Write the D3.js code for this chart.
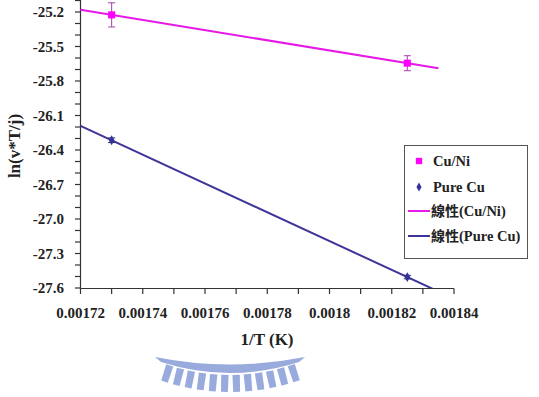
<!DOCTYPE html>
<html>
<head>
<meta charset="utf-8">
<script src="https://cdn.jsdelivr.net/npm/d3@7"></script>
<style>
    body { margin: 0; background: #fff; }
    svg { display: block; }
</style>
</head>
<body>
<svg id="chart" width="539" height="397"></svg>
<script>
// data
const invT = [0.00173, 0.001825];
const cuNi = [-25.225, -25.645];
const cuNiErr = [0.105, 0.065];
const pureCu = [-26.315, -27.505];
const pureCuErr = [0.02, 0.015];

const xTickValues = [0.00172, 0.00174, 0.00176, 0.00178, 0.0018, 0.00182, 0.00184];
const xTickLabels = ['0.00172', '0.00174', '0.00176', '0.00178', '0.0018', '0.00182', '0.00184'];
const yTickValues = [-27.6, -27.3, -27.0, -26.7, -26.4, -26.1, -25.8, -25.5, -25.2];
const yTickLabels = ['-27.6', '-27.3', '-27.0', '-26.7', '-26.4', '-26.1', '-25.8', '-25.5', '-25.2'];
const trendRange = [0.00172, 0.001835];

const serif = '"Liberation Serif", "DejaVu Serif", "Times New Roman", serif';
const cjk = '"Noto Sans CJK TC", "Noto Sans CJK SC", sans-serif';

const series = [
    { name: 'Cu/Ni', y: cuNi, err: cuNiErr, color: '#ff00ff', line: '#e619e6', errColor: '#b04cb0', shape: d3.symbolSquare, size: 50 },
    { name: 'Pure Cu', y: pureCu, err: pureCuErr, color: '#333399', line: '#3d3599', errColor: '#333366', shape: d3.symbolDiamond, size: 28 }
];

const svg = d3.select('#chart');

const x = d3.scaleLinear().domain([0.00172, 0.00184]).range([80.5, 454]);
const y = d3.scaleLinear().domain([-27.6, -25.1]).range([288, 0.5]);

// minor ticks
const xMinor = d3.range(0, 13).map(i => 0.00172 + i * 0.00001);
const yMinor = d3.range(0, 26).map(i => -27.6 + i * 0.1);

const txt = (sel, size) => sel
    .attr('font-family', serif)
    .attr('font-weight', 'bold')
    .attr('font-size', size)
    .attr('fill', '#222');

const axes = svg.append('g');
axes.append('line')
    .attr('x1', x.range()[0]).attr('x2', x.range()[1])
    .attr('y1', 288.5).attr('y2', 288.5)
    .attr('stroke', '#333').attr('stroke-width', 1.2);
axes.append('line')
    .attr('x1', 80.5).attr('x2', 80.5)
    .attr('y1', 0).attr('y2', 288.5)
    .attr('stroke', '#333').attr('stroke-width', 1.2);

axes.selectAll('.xt').data(xMinor).enter().append('line')
    .attr('x1', d => x(d)).attr('x2', d => x(d))
    .attr('y1', 288.5).attr('y2', 294)
    .attr('stroke', '#333').attr('stroke-width', 1.2);
axes.selectAll('.yt').data(yMinor).enter().append('line')
    .attr('x1', 75).attr('x2', 80.5)
    .attr('y1', d => y(d)).attr('y2', d => y(d))
    .attr('stroke', '#333').attr('stroke-width', 1.2);

axes.selectAll('.xl').data(xTickValues).enter().append('text')
    .call(txt, 15)
    .attr('x', d => x(d)).attr('y', 318)
    .attr('text-anchor', 'middle')
    .text((d, i) => xTickLabels[i]);
axes.selectAll('.yl').data(yTickValues).enter().append('text')
    .call(txt, 15)
    .attr('x', 64).attr('y', d => y(d) + 5)
    .attr('text-anchor', 'end')
    .text((d, i) => yTickLabels[i]);

svg.append('text')
    .call(txt, 17)
    .attr('x', 267).attr('y', 345)
    .attr('text-anchor', 'middle')
    .text('1/T (K)');
svg.append('text')
    .call(txt, 17)
    .attr('transform', 'translate(20,146) rotate(-90)')
    .attr('text-anchor', 'middle')
    .text('ln(v*T/j)');

// plot clip
svg.append('clipPath').attr('id', 'plot')
    .append('rect').attr('x', 80).attr('y', 0).attr('width', 380).attr('height', 288);

const plot = svg.append('g').attr('clip-path', 'url(#plot)');

series.forEach(s => {
    // least squares trend line
    const mx = d3.mean(invT), my = d3.mean(s.y);
    const slope = d3.sum(invT, (v, i) => (v - mx) * (s.y[i] - my)) / d3.sum(invT, v => (v - mx) * (v - mx));
    const fit = v => my + slope * (v - mx);

    plot.append('line')
        .attr('x1', x(trendRange[0])).attr('y1', y(fit(trendRange[0])))
        .attr('x2', x(trendRange[1])).attr('y2', y(fit(trendRange[1])))
        .attr('stroke', s.line).attr('stroke-width', 2);

    const pts = invT.map((v, i) => ({ x: v, y: s.y[i], e: s.err[i] }));
    const eb = plot.selectAll(null).data(pts).enter().append('g').attr('stroke', s.errColor).attr('stroke-width', 1.1);
    eb.append('line')
        .attr('x1', d => x(d.x)).attr('x2', d => x(d.x))
        .attr('y1', d => y(d.y - d.e)).attr('y2', d => y(d.y + d.e));
    eb.append('line')
        .attr('x1', d => x(d.x) - 3.5).attr('x2', d => x(d.x) + 3.5)
        .attr('y1', d => y(d.y - d.e)).attr('y2', d => y(d.y - d.e));
    eb.append('line')
        .attr('x1', d => x(d.x) - 3.5).attr('x2', d => x(d.x) + 3.5)
        .attr('y1', d => y(d.y + d.e)).attr('y2', d => y(d.y + d.e));

    plot.selectAll(null).data(pts).enter().append('path')
        .attr('d', d3.symbol().type(s.shape).size(s.size))
        .attr('transform', d => `translate(${x(d.x)},${y(d.y)})`)
        .attr('fill', s.color);
});

// legend
const legend = svg.append('g');
legend.append('rect')
    .attr('x', 404.5).attr('y', 145.5).attr('width', 123).attr('height', 113)
    .attr('fill', '#fff').attr('stroke', '#555').attr('stroke-width', 1);

const legendRows = [
    { label: 'Cu/Ni', s: series[0], type: 'marker', yy: 161 },
    { label: 'Pure Cu', s: series[1], type: 'marker', yy: 187 },
    { label: '(Cu/Ni)', s: series[0], type: 'line', yy: 211 },
    { label: '(Pure Cu)', s: series[1], type: 'line', yy: 236 }
];
legendRows.forEach(r => {
    if (r.type === 'marker') {
        legend.append('path')
            .attr('d', d3.symbol().type(r.s.shape).size(r.s.size * 0.8))
            .attr('transform', `translate(419,${r.yy})`)
            .attr('fill', r.s.color);
        legend.append('text')
            .call(txt, 14.5)
            .attr('x', 433).attr('y', r.yy + 5)
            .text(r.label);
    } else {
        legend.append('line')
            .attr('x1', 408).attr('x2', 430)
            .attr('y1', r.yy).attr('y2', r.yy)
            .attr('stroke', r.s.line).attr('stroke-width', 2);
        const t = legend.append('text')
            .call(txt, 14.5)
            .attr('x', 431).attr('y', r.yy + 5);
        t.append('tspan').attr('font-family', cjk).attr('font-size', 14).text('線性');
        t.append('tspan').text(r.label);
    }
});

// faint logo watermark under the axis title
const mark = svg.append('g').attr('fill', '#8fa2d9').attr('opacity', 0.9);
mark.append('path')
    .attr('d', 'M155,357 Q230,372 305,357 L299,362 Q230,384 161,362 Z');
const cx = 230, cy = 180;
d3.range(-18, 19, 3.3).forEach(a => {
    const r = a * Math.PI / 180;
    const p = (rad, off) => {
        const rr = r + off;
        return [cx + rad * Math.sin(rr), cy + rad * Math.cos(rr)];
    };
    const w = 0.019;
    const pts = [p(195, -w), p(195, w), p(212, w * 0.85), p(212, -w * 0.85)];
    mark.append('path').attr('d', 'M' + pts.map(q => q.join(',')).join('L') + 'Z');
});
</script>
</body>
</html>
